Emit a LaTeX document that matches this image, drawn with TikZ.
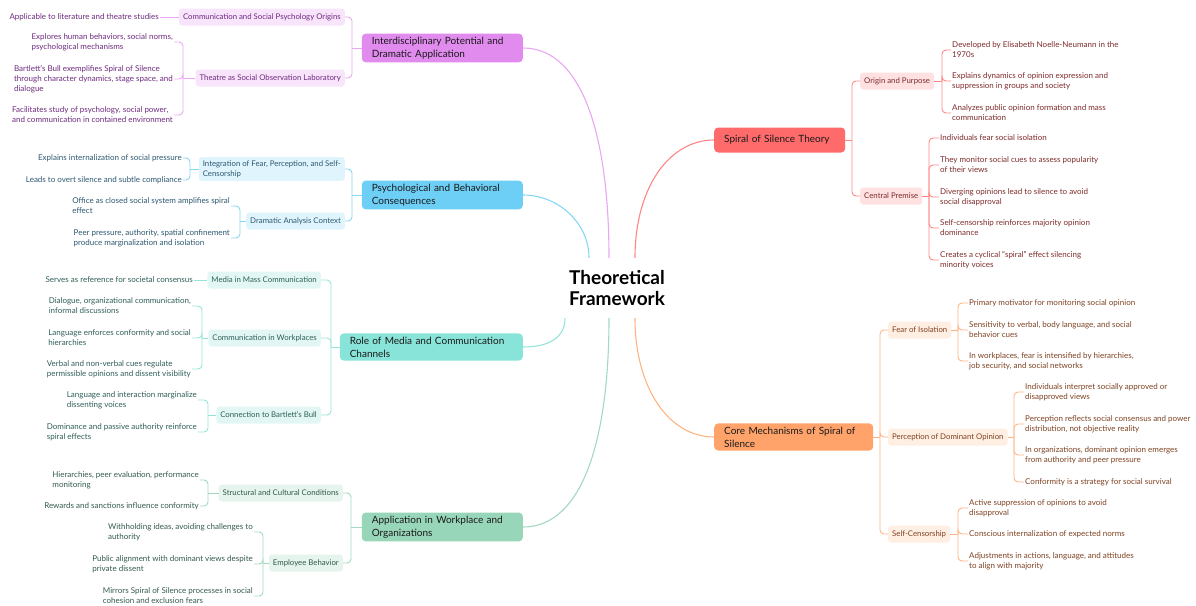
\documentclass[tikz,border=0pt]{standalone}
\usepackage{fontspec}
\setmainfont{Lato}
\usepackage{tikz}

\definecolor{purpMain}{HTML}{E18BEE}
\definecolor{purpSub}{HTML}{F8E4FB}
\definecolor{purpLine}{HTML}{E9A6F2}
\definecolor{purpText}{HTML}{6E2B7E}
\definecolor{blueMain}{HTML}{6ECFF6}
\definecolor{blueSub}{HTML}{DFF4FD}
\definecolor{blueLine}{HTML}{86D6F5}
\definecolor{blueText}{HTML}{2C5870}
\definecolor{tealMain}{HTML}{88E3D8}
\definecolor{tealSub}{HTML}{E2F7F4}
\definecolor{tealLine}{HTML}{95E4DA}
\definecolor{tealText}{HTML}{2E5E58}
\definecolor{grnMain}{HTML}{98D6B9}
\definecolor{grnSub}{HTML}{E5F4ED}
\definecolor{grnLine}{HTML}{A3D9C0}
\definecolor{grnText}{HTML}{335A4B}
\definecolor{redMain}{HTML}{FF6B6B}
\definecolor{redSub}{HTML}{FFE1E1}
\definecolor{redLine}{HTML}{FF8585}
\definecolor{redText}{HTML}{7D2B2B}
\definecolor{orgMain}{HTML}{FFA36B}
\definecolor{orgSub}{HTML}{FFEEE2}
\definecolor{orgLine}{HTML}{FFB383}
\definecolor{orgText}{HTML}{7E4222}

\begin{document}
\begin{tikzpicture}[x=1pt,y=-1pt,
    root/.style={font=\fontsize{19}{21}\selectfont\bfseries, align=center, minimum height=60pt, inner sep=0pt},
    mainbox/.style={fill=#1, rounded corners=4pt, font=\fontsize{10}{13}\selectfont, align=left, inner xsep=10pt, minimum height=25pt, text=black!90},
    subbox/.style={fill=#1, rounded corners=3pt, font=\fontsize{7.8}{10}\selectfont, align=left, inner xsep=4pt, minimum height=17pt},
    leafl/.style={anchor=east, align=left, font=\fontsize{8}{10}\selectfont, inner sep=1pt},
    leafr/.style={anchor=west, align=left, font=\fontsize{8}{10}\selectfont, inner sep=1pt},
    link/.style={line width=1.1pt, draw=#1},
    brk/.style={line width=0.9pt, rounded corners=4pt, draw=#1}]
    \useasboundingbox (0,0) rectangle (1196,605);

    \node[root] (tf) at (617,288) {Theoretical\\Framework};

    \node[mainbox=purpMain, anchor=east, text width=141pt] (idp) at (523,48) {Interdisciplinary Potential and\\Dramatic Application};
    \node[mainbox=blueMain, anchor=east, text width=141pt] (pbc) at (523,195) {Psychological and Behavioral\\Consequences};
    \node[mainbox=tealMain, anchor=east, text width=163pt] (rmc) at (523,347) {Role of Media and Communication\\Channels};
    \node[mainbox=grnMain, anchor=east, text width=141pt] (awo) at (523,527) {Application in Workplace and\\Organizations};
    \node[mainbox=redMain, anchor=west, text width=111pt] (sst) at (714,140) {Spiral of Silence Theory};
    \node[mainbox=orgMain, anchor=west, text width=139pt] (cms) at (714,437) {Core Mechanisms of Spiral of\\Silence};

    \draw[link=purpLine] ([xshift=-8pt]tf.north) .. controls +(0,-120) and +(60,0) .. (idp.east);
    \draw[link=blueLine] ([xshift=-28pt]tf.north) .. controls +(0,-35) and +(35,0) .. (pbc.east);
    \draw[link=redLine] ([xshift=18pt]tf.north) .. controls +(0,-70) and +(-45,0) .. (sst.west);
    \draw[link=tealLine] ([xshift=-52pt]tf.south) .. controls +(0,20) and +(25,0) .. (rmc.east);
    \draw[link=grnLine] ([xshift=-8pt]tf.south) .. controls +(0,120) and +(60,0) .. (awo.east);
    \draw[link=orgLine] ([xshift=18pt]tf.south) .. controls +(0,70) and +(-45,0) .. (cms.west);

    \begin{scope}[every node/.append style={text=purpText}]
        \node[subbox=purpSub, anchor=east] (csp) at (345,17) {Communication and Social Psychology Origins};
        \node[subbox=purpSub, anchor=east] (tsl) at (345,78) {Theatre as Social Observation Laboratory};
        \node[leafl] (csp1) at (160,17) {Applicable to literature and theatre studies};
        \node[leafl] (tsl1) at (174,42) {Explores human behaviors, social norms,\\psychological mechanisms};
        \node[leafl] (tsl2) at (174,79) {Bartlett's Bull exemplifies Spiral of Silence\\through character dynamics, stage space, and\\dialogue};
        \node[leafl] (tsl3) at (174,115) {Facilitates study of psychology, social power,\\and communication in contained environment};
        \coordinate (idpJ) at (352,48);
        \coordinate (tslJ) at (183,78);
        \draw[brk=purpLine] (idp.west) -- (idpJ);
        \foreach \n in {csp,tsl}
            \draw[brk=purpLine] (idpJ) |- (\n.east);
        \draw[brk=purpLine] (csp.west) -- (csp1.east);
        \draw[brk=purpLine] (tsl.west) -- (tslJ);
        \foreach \n in {tsl1,tsl2,tsl3}
            \draw[brk=purpLine] (tslJ) |- (\n.east);
    \end{scope}

    \begin{scope}[every node/.append style={text=blueText}]
        \node[subbox=blueSub, anchor=east] (ifp) at (345,169) {Integration of Fear, Perception, and Self-\\Censorship};
        \node[subbox=blueSub, anchor=east] (dac) at (345,221) {Dramatic Analysis Context};
        \node[leafl] (ifp1) at (183,158) {Explains internalization of social pressure};
        \node[leafl] (ifp2) at (183,180) {Leads to overt silence and subtle compliance};
        \node[leafl] (dac1) at (231,206) {Office as closed social system amplifies spiral\\effect};
        \node[leafl] (dac2) at (231,238) {Peer pressure, authority, spatial confinement\\produce marginalization and isolation};
        \coordinate (pbcJ) at (352,195);
        \coordinate (ifpJ) at (190,169);
        \coordinate (dacJ) at (240,221);
        \draw[brk=blueLine] (pbc.west) -- (pbcJ);
        \foreach \n in {ifp,dac}
            \draw[brk=blueLine] (pbcJ) |- (\n.east);
        \draw[brk=blueLine] (ifp.west) -- (ifpJ);
        \draw[brk=blueLine] (dac.west) -- (dacJ);
        \foreach \n in {ifp1,ifp2}
            \draw[brk=blueLine] (ifpJ) |- (\n.east);
        \foreach \n in {dac1,dac2}
            \draw[brk=blueLine] (dacJ) |- (\n.east);
    \end{scope}

    \begin{scope}[every node/.append style={text=tealText}]
        \node[subbox=tealSub, anchor=east] (mmc) at (321,280) {Media in Mass Communication};
        \node[subbox=tealSub, anchor=east] (cwp) at (321,338) {Communication in Workplaces};
        \node[subbox=tealSub, anchor=east] (cbb) at (321,415) {Connection to Bartlett's Bull};
        \node[leafl] (mmc1) at (194,280) {Serves as reference for societal consensus};
        \node[leafl] (cwp1) at (192,306) {Dialogue, organizational communication,\\informal discussions};
        \node[leafl] (cwp2) at (192,338) {Language enforces conformity and social\\hierarchies};
        \node[leafl] (cwp3) at (192,369) {Verbal and non-verbal cues regulate\\permissible opinions and dissent visibility};
        \node[leafl] (cbb1) at (198,400) {Language and interaction marginalize\\dissenting voices};
        \node[leafl] (cbb2) at (198,432) {Dominance and passive authority reinforce\\spiral effects};
        \coordinate (rmcJ) at (331,347);
        \coordinate (cwpJ) at (202,338);
        \coordinate (cbbJ) at (208,415);
        \draw[brk=tealLine] (rmc.west) -- (rmcJ);
        \foreach \n in {mmc,cwp,cbb}
            \draw[brk=tealLine] (rmcJ) |- (\n.east);
        \draw[brk=tealLine] (mmc.west) -- (mmc1.east);
        \draw[brk=tealLine] (cwp.west) -- (cwpJ);
        \draw[brk=tealLine] (cbb.west) -- (cbbJ);
        \foreach \n in {cwp1,cwp2,cwp3}
            \draw[brk=tealLine] (cwpJ) |- (\n.east);
        \foreach \n in {cbb1,cbb2}
            \draw[brk=tealLine] (cbbJ) |- (\n.east);
    \end{scope}

    \begin{scope}[every node/.append style={text=grnText}]
        \node[subbox=grnSub, anchor=east] (scc) at (343,493) {Structural and Cultural Conditions};
        \node[subbox=grnSub, anchor=east] (ebh) at (343,563) {Employee Behavior};
        \node[leafl] (scc1) at (200,480) {Hierarchies, peer evaluation, performance\\monitoring};
        \node[leafl] (scc2) at (200,506) {Rewards and sanctions influence conformity};
        \node[leafl] (ebh1) at (254,532) {Withholding ideas, avoiding challenges to\\authority};
        \node[leafl] (ebh2) at (254,564) {Public alignment with dominant views despite\\private dissent};
        \node[leafl] (ebh3) at (254,596) {Mirrors Spiral of Silence processes in social\\cohesion and exclusion fears};
        \coordinate (awoJ) at (351,527);
        \coordinate (sccJ) at (208,493);
        \coordinate (ebhJ) at (263,563);
        \draw[brk=grnLine] (awo.west) -- (awoJ);
        \foreach \n in {scc,ebh}
            \draw[brk=grnLine] (awoJ) |- (\n.east);
        \draw[brk=grnLine] (scc.west) -- (sccJ);
        \draw[brk=grnLine] (ebh.west) -- (ebhJ);
        \foreach \n in {scc1,scc2}
            \draw[brk=grnLine] (sccJ) |- (\n.east);
        \foreach \n in {ebh1,ebh2,ebh3}
            \draw[brk=grnLine] (ebhJ) |- (\n.east);
    \end{scope}

    \begin{scope}[every node/.append style={text=redText}]
        \node[subbox=redSub, anchor=west] (oap) at (860,81) {Origin and Purpose};
        \node[subbox=redSub, anchor=west] (cpr) at (860,196) {Central Premise};
        \node[leafr] (oap1) at (951,50) {Developed by Elisabeth Noelle-Neumann in the\\1970s};
        \node[leafr] (oap2) at (951,81) {Explains dynamics of opinion expression and\\suppression in groups and society};
        \node[leafr] (oap3) at (951,113) {Analyzes public opinion formation and mass\\communication};
        \node[leafr] (cpr1) at (939,138) {Individuals fear social isolation};
        \node[leafr] (cpr2) at (939,165) {They monitor social cues to assess popularity\\of their views};
        \node[leafr] (cpr3) at (939,197) {Diverging opinions lead to silence to avoid\\social disapproval};
        \node[leafr] (cpr4) at (939,228) {Self-censorship reinforces majority opinion\\dominance};
        \node[leafr] (cpr5) at (939,260) {Creates a cyclical “spiral” effect silencing\\minority voices};
        \coordinate (sstJ) at (852,140);
        \coordinate (oapJ) at (942,81);
        \coordinate (cprJ) at (929,196);
        \draw[brk=redLine] (sst.east) -- (sstJ);
        \foreach \n in {oap,cpr}
            \draw[brk=redLine] (sstJ) |- (\n.west);
        \draw[brk=redLine] (oap.east) -- (oapJ);
        \draw[brk=redLine] (cpr.east) -- (cprJ);
        \foreach \n in {oap1,oap2,oap3}
            \draw[brk=redLine] (oapJ) |- (\n.west);
        \foreach \n in {cpr1,cpr2,cpr3,cpr4,cpr5}
            \draw[brk=redLine] (cprJ) |- (\n.west);
    \end{scope}

    \begin{scope}[every node/.append style={text=orgText}]
        \node[subbox=orgSub, anchor=west] (foi) at (888,330) {Fear of Isolation};
        \node[subbox=orgSub, anchor=west] (pdo) at (888,437) {Perception of Dominant Opinion};
        \node[subbox=orgSub, anchor=west] (scs) at (888,534) {Self-Censorship};
        \node[leafr] (foi1) at (968,303) {Primary motivator for monitoring social opinion};
        \node[leafr] (foi2) at (968,330) {Sensitivity to verbal, body language, and social\\behavior cues};
        \node[leafr] (foi3) at (968,361) {In workplaces, fear is intensified by hierarchies,\\job security, and social networks};
        \node[leafr] (pdo1) at (1024,392) {Individuals interpret socially approved or\\disapproved views};
        \node[leafr] (pdo2) at (1024,424) {Perception reflects social consensus and power\\distribution, not objective reality};
        \node[leafr] (pdo3) at (1024,455) {In organizations, dominant opinion emerges\\from authority and peer pressure};
        \node[leafr] (pdo4) at (1024,482) {Conformity is a strategy for social survival};
        \node[leafr] (scs1) at (968,508) {Active suppression of opinions to avoid\\disapproval};
        \node[leafr] (scs2) at (968,534) {Conscious internalization of expected norms};
        \node[leafr] (scs3) at (968,561) {Adjustments in actions, language, and attitudes\\to align with majority};
        \coordinate (cmsJ) at (880,437);
        \coordinate (foiJ) at (958,330);
        \coordinate (pdoJ) at (1014,437);
        \coordinate (scsJ) at (958,534);
        \draw[brk=orgLine] (cms.east) -- (cmsJ);
        \foreach \n in {foi,pdo,scs}
            \draw[brk=orgLine] (cmsJ) |- (\n.west);
        \draw[brk=orgLine] (foi.east) -- (foiJ);
        \draw[brk=orgLine] (pdo.east) -- (pdoJ);
        \draw[brk=orgLine] (scs.east) -- (scsJ);
        \foreach \n in {foi1,foi2,foi3}
            \draw[brk=orgLine] (foiJ) |- (\n.west);
        \foreach \n in {pdo1,pdo2,pdo3,pdo4}
            \draw[brk=orgLine] (pdoJ) |- (\n.west);
        \foreach \n in {scs1,scs2,scs3}
            \draw[brk=orgLine] (scsJ) |- (\n.west);
    \end{scope}
\end{tikzpicture}
\end{document}
